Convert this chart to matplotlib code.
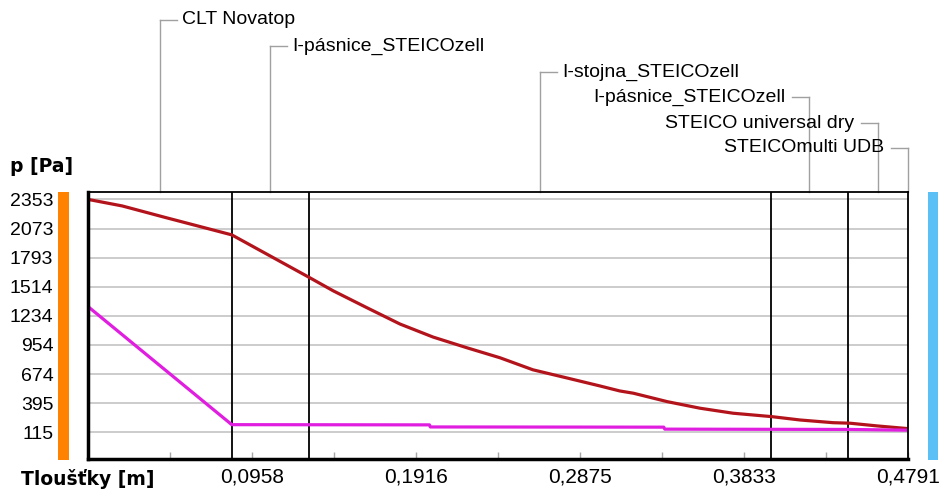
import matplotlib
matplotlib.use("Agg")
import matplotlib.pyplot as plt
from matplotlib.patches import Rectangle
from matplotlib.transforms import blended_transform_factory
import numpy as np

# layers (thickness in m) and names
layer_names = ["CLT Novatop", "I-pásnice_STEICOzell", "I-stojna_STEICOzell",
               "I-pásnice_STEICOzell", "STEICO universal dry", "STEICOmulti UDB"]
layer_thick = [0.084, 0.045, 0.270, 0.045, 0.035, 0.0001]

# pressure curves
red_x = [0.0, 0.020, 0.045, 0.084, 0.1297, 0.1433, 0.1632, 0.1823, 0.2016, 0.2214,
         0.2407, 0.2600, 0.2798, 0.2991, 0.3107, 0.3187, 0.3385, 0.3576, 0.3769,
         0.3996, 0.4160, 0.4353, 0.4452, 0.4610, 0.4791]
red_p = [2353, 2290, 2180, 2012, 1599, 1474, 1310, 1155, 1030, 927,
         831, 715, 637, 560, 512, 490, 409, 346, 298,
         265, 233, 207, 202, 176, 150]

mag_x = [0.0, 0.084, 0.1995, 0.2000, 0.3364, 0.3370, 0.4446, 0.4791]
mag_p = [1323, 188, 186, 166, 164, 145, 142, 135]

y_ticks = [115, 395, 674, 954, 1234, 1514, 1793, 2073, 2353]
x_ticks = [0.0479, 0.0958, 0.1437, 0.1916, 0.2396, 0.2875, 0.3354, 0.3833, 0.4312, 0.4791]
x_labels = ["", "0,0958", "", "0,1916", "", "0,2875", "", "0,3833", "", "0,4791"]

W, H = 940, 491
font = ["Liberation Sans", "DejaVu Sans"]

fig = plt.figure(figsize=(W / 100, H / 100), dpi=100)
fig.patch.set_facecolor("white")

# plot area in pixels
L, R, T, B = 88, 908, 192, 459
ax = fig.add_axes([L / W, 1 - B / H, (R - L) / W, (B - T) / H])

ax.set_xlim(0, 0.4791)
ax.set_ylim(-142, 2424)

ax.set_yticks(y_ticks)
ax.set_yticklabels([str(v) for v in y_ticks], fontfamily=font, fontsize=14)
ax.set_xticks(x_ticks)
ax.set_xticklabels(x_labels, fontfamily=font, fontsize=15)
ax.tick_params(axis="x", direction="in", length=5, width=1, color="#a8a8a8", pad=6)
ax.tick_params(axis="y", length=0, pad=25)
ax.grid(axis="y", color="#c8c8c8", linewidth=1.3)
ax.set_axisbelow(True)

for side in ["left", "bottom"]:
    ax.spines[side].set_linewidth(2.5)
for side in ["top", "right"]:
    ax.spines[side].set_linewidth(1.3)

# layer boundaries
edges = np.cumsum(layer_thick)
for e in edges[:-2]:
    ax.axvline(e, color="black", linewidth=1.3)

ax.plot(red_x, red_p, color="#b3141c", linewidth=2.3)
ax.plot(mag_x, mag_p, color="#e01ee0", linewidth=2.3)

# layer labels with leader lines
px = 0.4791 / (R - L)
starts = np.concatenate([[0], edges[:-1]])
mids = (starts + edges) / 2
mids[-1] = edges[-1]
rows = [20, 46, 72, 97, 123, 148]
tr = blended_transform_factory(ax.transData, ax.transAxes)
for i, (name, m, row) in enumerate(zip(layer_names, mids, rows)):
    ya = (B - row) / (B - T)
    ax.plot([m, m], [1, ya], color="#a0a0a0", linewidth=1, transform=tr, clip_on=False)
    if i < 3:
        ax.plot([m, m + 17 * px], [ya, ya], color="#a0a0a0", linewidth=1, transform=tr, clip_on=False)
        ax.text(m + 22 * px, ya, name, transform=tr, ha="left", va="center",
                fontfamily=font, fontsize=14)
    else:
        ax.plot([m, m - 17 * px], [ya, ya], color="#a0a0a0", linewidth=1, transform=tr, clip_on=False)
        ax.text(m - 24 * px, ya, name, transform=tr, ha="right", va="center",
                fontfamily=font, fontsize=14)

# colour bars on both sides
fig.add_artist(Rectangle((58 / W, 1 - 460 / H), 11 / W, 268 / H,
                         transform=fig.transFigure, color="#ff8200", linewidth=0))
fig.add_artist(Rectangle((928 / W, 1 - 460 / H), 10 / W, 268 / H,
                         transform=fig.transFigure, color="#5bc0f5", linewidth=0))

fig.text(10 / W, 1 - 167 / H, "p [Pa]", fontsize=13.5, fontweight="bold",
         fontfamily="DejaVu Sans", va="center", ha="left")
fig.text(21 / W, 1 - 479 / H, "Tloušťky [m]", fontsize=13.5, fontweight="bold",
         fontfamily="DejaVu Sans", va="center", ha="left")

fig.savefig("out.png", dpi=100, facecolor="white")
